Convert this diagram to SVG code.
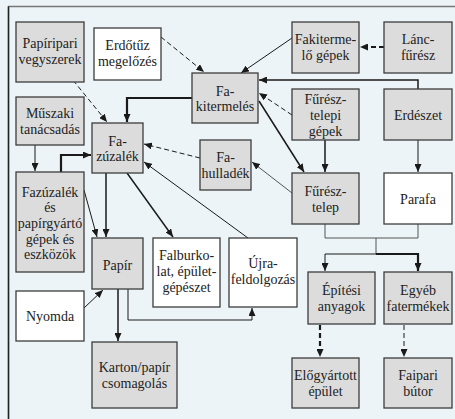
<svg xmlns="http://www.w3.org/2000/svg" width="455" height="419" viewBox="0 0 455 419">
<defs>
<style>
.g{fill:#dcdcdc;stroke:#3c3c3c;stroke-width:1.3}
.w{fill:#ffffff;stroke:#3c3c3c;stroke-width:1.3}
text{font-family:'Liberation Serif','DejaVu Serif',serif;font-size:14px;fill:#222;text-anchor:middle}
.c{fill:none;stroke:#1a1a1a}
.t1{stroke-width:1}
.t2{stroke-width:1.5}
.t3{stroke-width:2.2}
.d{stroke-dasharray:5,3}
.gr{stroke:#555}
</style>
<marker id="ah" viewBox="0 0 8 7" refX="8" refY="3.5" markerWidth="8" markerHeight="7" orient="auto" markerUnits="userSpaceOnUse">
<path d="M0,0 L8,3.5 L0,7 z" fill="#1a1a1a"/>
</marker>
</defs>
<rect x="0" y="0" width="455" height="419" fill="#ecf4f7"/>
<path d="M8.5,419 V6.5 H455" fill="none" stroke="#777" stroke-width="1.3"/>
<path d="M8.5,419 V6.5" fill="none" stroke="#222" stroke-width="1.5"/>

<g id="connectors">
<path class="c t1 d" d="M68,74 L107,122" marker-end="url(#ah)"/>
<path class="c t1 d" d="M161,37 L204,72" marker-end="url(#ah)"/>
<path class="c t3" d="M192,98 H127 V122" marker-end="url(#ah)"/>
<path class="c t1" d="M292,38 L241,73" marker-end="url(#ah)"/>
<path class="c t3 d" d="M384,47 H360" marker-end="url(#ah)"/>
<path class="c t2" d="M418,89 V80 H259" marker-end="url(#ah)"/>
<path class="c t1 d" d="M292,115 L259,93" marker-end="url(#ah)"/>
<path class="c t2" d="M259,101 L304,172" marker-end="url(#ah)"/>
<path class="c t2" d="M325,140 V172" marker-end="url(#ah)"/>
<path class="c t1" d="M418,140 V172" marker-end="url(#ah)"/>
<path class="c t1 gr" d="M292,193 L252,162" marker-end="url(#ah)"/>
<path class="c t1 d" d="M200,158 L144,144" marker-end="url(#ah)"/>
<path class="c t1" d="M248,238 L144,162" marker-end="url(#ah)"/>
<path class="c t2" d="M106,173 V237" marker-end="url(#ah)"/>
<path class="c t2" d="M127,173 L173,237" marker-end="url(#ah)"/>
<path class="c t1" d="M35,145 V171" marker-end="url(#ah)"/>
<path class="c t3" d="M61,172 V155 H91" marker-end="url(#ah)"/>
<path class="c t1" d="M84,190 L97,237" marker-end="url(#ah)"/>
<path class="c t1" d="M84,308 L103,290" marker-end="url(#ah)"/>
<path class="c t2" d="M118,289 V341" marker-end="url(#ah)"/>
<path class="c t1" d="M128,289 V320 H252 V308" marker-end="url(#ah)"/>
<path class="c t1 gr" d="M325,224 V238 H418 V224 M376,238 V254"/>
<path class="c t1" d="M376,254 H325 V271" marker-end="url(#ah)"/>
<path class="c t3" d="M376,254 H418 V271" marker-end="url(#ah)"/>
<path class="c t3 d" d="M320,325 V357" marker-end="url(#ah)"/>
<path class="c t1 d" d="M404,325 V357" marker-end="url(#ah)"/>
</g>

<g id="papiripari"><rect class="g" x="16" y="22" width="68" height="60"/><text x="50" y="48">Papíripari</text><text x="50" y="64">vegyszerek</text></g>
<g id="erdotuz"><rect class="w" x="94" y="28" width="67" height="52"/><text x="127.5" y="50">Erdőtűz</text><text x="127.5" y="66">megelőzés</text></g>
<g id="fakitermeles"><rect class="g" x="192" y="73" width="66" height="50"/><text x="225" y="96">Fa-</text><text x="225" y="111">kitermelés</text></g>
<g id="fakitermelo-gepek"><rect class="g" x="292" y="22" width="67" height="51"/><text x="325.5" y="44">Fakiterme-</text><text x="325.5" y="60">lő gépek</text></g>
<g id="lancfuresz"><rect class="g" x="384" y="22" width="68" height="51"/><text x="418" y="44">Lánc-</text><text x="418" y="60">fűrész</text></g>
<g id="muszaki"><rect class="g" x="16" y="97" width="68" height="48"/><text x="50" y="118">Műszaki</text><text x="50" y="134">tanácsadás</text></g>
<g id="fazuzalek"><rect class="g" x="92" y="123" width="51" height="50"/><text x="117.5" y="146">Fa-</text><text x="117.5" y="161">zúzalék</text></g>
<g id="fureszteleip-gepek"><rect class="g" x="292" y="89" width="67" height="51"/><text x="325.5" y="104">Fűrész-</text><text x="325.5" y="120">telepi</text><text x="325.5" y="136">gépek</text></g>
<g id="erdeszet"><rect class="g" x="384" y="89" width="68" height="51"/><text x="418" y="120">Erdészet</text></g>
<g id="fahulladek"><rect class="g" x="200" y="140" width="51" height="50"/><text x="225.5" y="162">Fa-</text><text x="225.5" y="178">hulladék</text></g>
<g id="fazuzalek-gepek"><rect class="g" x="16" y="172" width="68" height="100"/><text x="50" y="197">Fazúzalék</text><text x="50" y="212">és</text><text x="50" y="228">papírgyártó</text><text x="50" y="244">gépek és</text><text x="50" y="259">eszközök</text></g>
<g id="fureszteleip"><rect class="g" x="292" y="173" width="67" height="51"/><text x="325.5" y="196">Fűrész-</text><text x="325.5" y="212">telep</text></g>
<g id="parafa"><rect class="w" x="384" y="173" width="68" height="51"/><text x="418" y="204">Parafa</text></g>
<g id="papir"><rect class="g" x="92" y="238" width="51" height="51"/><text x="117.5" y="270">Papír</text></g>
<g id="falburkolat"><rect class="w" x="153" y="238" width="67" height="69"/><text x="186.5" y="260">Falburko-</text><text x="186.5" y="276">lat, épület-</text><text x="186.5" y="292">gépészet</text></g>
<g id="ujrafeldolgozas"><rect class="w" x="229" y="238" width="68" height="69"/><text x="263" y="268">Újra-</text><text x="263" y="284">feldolgozás</text></g>
<g id="nyomda"><rect class="w" x="16" y="291" width="68" height="50"/><text x="50" y="321">Nyomda</text></g>
<g id="karton"><rect class="g" x="92" y="342" width="85" height="66"/><text x="134.5" y="372">Karton/papír</text><text x="134.5" y="388">csomagolás</text></g>
<g id="epitesi"><rect class="g" x="308" y="272" width="67" height="52"/><text x="341.5" y="295">Építési</text><text x="341.5" y="311">anyagok</text></g>
<g id="egyeb"><rect class="g" x="384" y="272" width="68" height="52"/><text x="418" y="295">Egyéb</text><text x="418" y="311">fatermékek</text></g>
<g id="elogyartott"><rect class="g" x="292" y="358" width="67" height="50"/><text x="325.5" y="380">Előgyártott</text><text x="325.5" y="396">épület</text></g>
<g id="faipari"><rect class="g" x="384" y="358" width="68" height="50"/><text x="418" y="396">bútor</text><text x="418" y="380">Faipari</text></g>
</svg>
